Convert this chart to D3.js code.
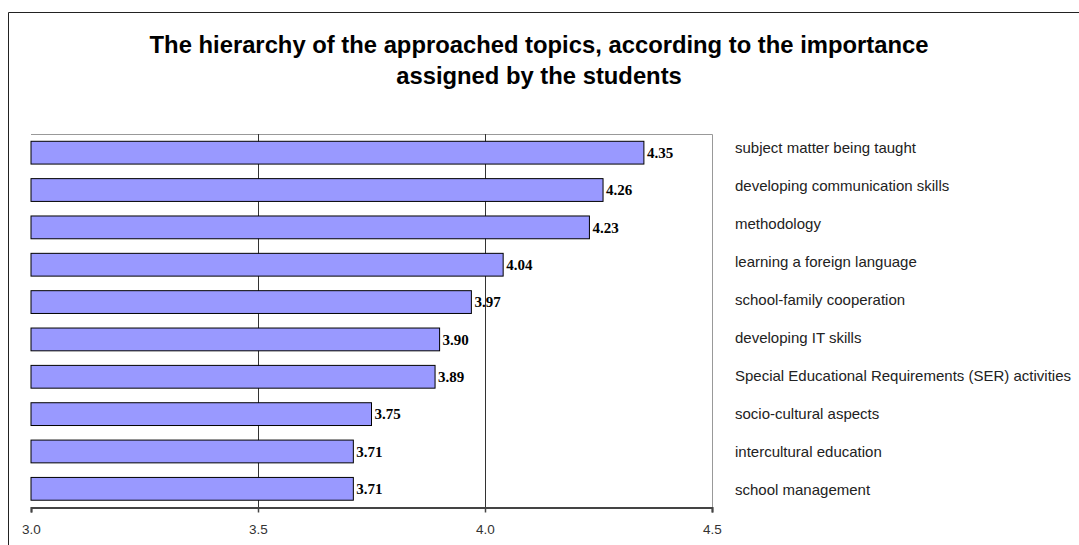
<!DOCTYPE html>
<html>
<head>
<meta charset="utf-8">
<script src="https://cdn.jsdelivr.net/npm/d3@7"></script>
<style>
body { margin: 0; background: #fff; }
svg { display: block; }
</style>
</head>
<body>
<svg width="1079" height="545"></svg>
<script>
var categories = ["subject matter being taught", "developing communication skills", "methodology",
  "learning a foreign language", "school-family cooperation", "developing IT skills",
  "Special Educational Requirements (SER) activities", "socio-cultural aspects",
  "intercultural education", "school management"];
var values = [4.35, 4.26, 4.23, 4.04, 3.97, 3.90, 3.89, 3.75, 3.71, 3.71];
var ticks = [3.0, 3.5, 4.0, 4.5];
var titleLines = ["The hierarchy of the approached topics, according to the importance",
  "assigned by the students"];

var svg = d3.select("svg");
var plotLeft = 31, plotRight = 712, plotTop = 134, plotBottom = 507.5;

var xScale = d3.scaleLinear().domain([3.0, 4.5]).range([plotLeft, plotRight]);
var yScale = d3.scaleBand().domain(categories).range([plotTop, plotBottom]).paddingInner(0.39).paddingOuter(0.195);
var labelY = d3.scalePoint().domain(categories).range([148, 490]);

// outer frame (only left and top visible)
svg.append("path").attr("d", "M8.5,545V12.5H1079").attr("fill", "none").attr("stroke", "#222").attr("stroke-width", 1);

// title
svg.append("g").selectAll("text").data(titleLines).enter().append("text")
  .attr("x", 539).attr("y", function(d, i){ return 53 + i * 31 })
  .attr("text-anchor", "middle")
  .style("font-family", "Liberation Sans, Arial, sans-serif")
  .style("font-weight", "bold").style("font-size", "23.8px")
  .text(function(d){ return d });

// plot frame top/right
svg.append("path").attr("d", "M" + plotLeft + "," + (plotTop + 0.5) + "H" + (plotRight + 0.5) + "V" + plotBottom)
  .attr("fill", "none").attr("stroke", "#999").attr("stroke-width", 1);

// value labels (drawn first; gridlines pass over them like in the original)
svg.append("g").selectAll("text").data(values).enter().append("text")
  .attr("x", function(d){ return xScale(d) + 3 })
  .attr("y", function(d, i){ return yScale(categories[i]) + yScale.bandwidth() / 2 })
  .attr("dy", "0.35em")
  .style("font-family", "Liberation Serif, Times New Roman, serif")
  .style("font-weight", "bold").style("font-size", "15px")
  .text(function(d){ return d.toFixed(2) });

// gridlines
svg.append("g").selectAll("line").data([3.5, 4.0]).enter().append("line")
  .attr("x1", function(d){ return Math.round(xScale(d)) + 0.5 }).attr("x2", function(d){ return Math.round(xScale(d)) + 0.5 })
  .attr("y1", plotTop).attr("y2", plotBottom)
  .attr("stroke", "#333").attr("stroke-width", 1);

// bars
svg.append("g").selectAll("rect").data(values).enter().append("rect")
  .attr("x", xScale(3.0))
  .attr("y", function(d, i){ return yScale(categories[i]) })
  .attr("width", function(d){ return xScale(d) - xScale(3.0) })
  .attr("height", yScale.bandwidth())
  .attr("fill", "#9999ff").attr("stroke", "#000").attr("stroke-width", 1);

// category labels
svg.append("g").selectAll("text").data(categories).enter().append("text")
  .attr("x", 735)
  .attr("y", function(d){ return labelY(d) })
  .attr("dy", "0.35em")
  .style("font-family", "Liberation Sans, Arial, sans-serif")
  .style("font-size", "15px").style("fill", "#222")
  .text(function(d){ return d });

// x axis
var xAxis = d3.axisBottom(xScale).tickValues(ticks).tickFormat(d3.format(".1f")).tickSize(5).tickPadding(12);
var xg = svg.append("g").attr("transform", "translate(0," + plotBottom + ")").call(xAxis);
xg.select(".domain").attr("stroke", "#444").attr("stroke-width", 2);
xg.selectAll(".tick line").attr("stroke", "#444").attr("stroke-width", 1.5);
xg.selectAll(".tick text").style("font-family", "Liberation Sans, Arial, sans-serif").style("font-size", "13.5px").style("fill", "#333");
</script>
</body>
</html>
